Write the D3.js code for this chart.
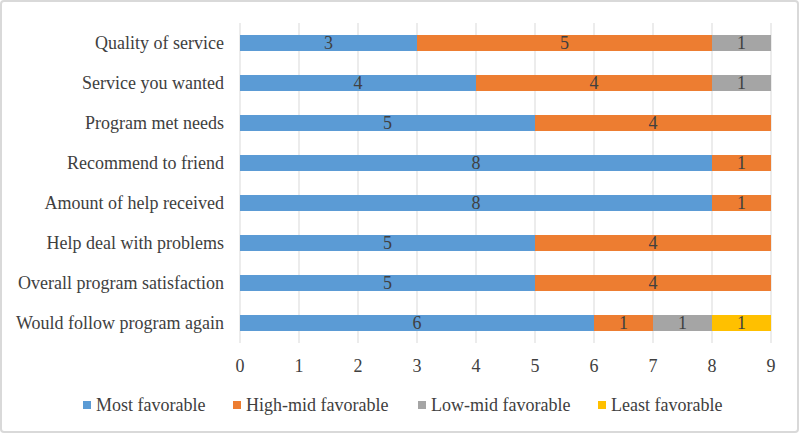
<!DOCTYPE html>
<html lang="en">
<head>
<meta charset="UTF-8">
<title>Program feedback</title>
<style>
    body { margin: 0; background: #fff; }
    #chart { width: 799px; height: 433px; }
</style>
</head>
<body>
<div id="chart"></div>
<script src="https://d3js.org/d3.v7.min.js"></script>
<script>
    const categories = [
        "Quality of service",
        "Service you wanted",
        "Program met needs",
        "Recommend to friend",
        "Amount of help received",
        "Help deal with problems",
        "Overall program satisfaction",
        "Would follow program again"
    ];
    const seriesNames = ["Most favorable", "High-mid favorable", "Low-mid favorable", "Least favorable"];
    const mostFavorable    = [3, 4, 5, 8, 8, 5, 5, 6];
    const highMidFavorable = [5, 4, 4, 1, 1, 4, 4, 1];
    const lowMidFavorable  = [1, 1, 0, 0, 0, 0, 0, 1];
    const leastFavorable   = [0, 0, 0, 0, 0, 0, 0, 1];
    const xTicks = [0, 1, 2, 3, 4, 5, 6, 7, 8, 9];
    const colors = ["#5B9BD5", "#ED7D31", "#A5A5A5", "#FFC000"];

    const width = 799, height = 433;
    const margin = { left: 240, right: 28, top: 23, bottom: 90 };
    const font = "'Liberation Serif', 'Times New Roman', 'DejaVu Serif', serif";

    const rows = categories.map((c, i) => ({
        cat: c,
        s0: mostFavorable[i], s1: highMidFavorable[i], s2: lowMidFavorable[i], s3: leastFavorable[i]
    }));
    const stacked = d3.stack().keys(["s0", "s1", "s2", "s3"])(rows);

    const svg = d3.select("#chart").append("svg")
        .attr("width", width)
        .attr("height", height)
        .attr("font-family", font)
        .style("font-family", font);

    // outer frame
    svg.append("rect")
        .attr("x", 1).attr("y", 1)
        .attr("width", width - 2).attr("height", height - 2)
        .attr("rx", 3)
        .attr("fill", "none")
        .attr("stroke", "#d9d9d9")
        .attr("stroke-width", 2);

    const x = d3.scaleLinear()
        .domain([0, 9])
        .range([margin.left, width - margin.right]);

    const y = d3.scaleBand()
        .domain(categories)
        .range([margin.top, height - margin.bottom])
        .paddingInner(0.6)
        .paddingOuter(0.3);

    const bottom = height - margin.bottom;

    // gridlines
    svg.append("g")
        .selectAll("line")
        .data(xTicks)
        .join("line")
        .attr("x1", d => x(d)).attr("x2", d => x(d))
        .attr("y1", margin.top).attr("y2", bottom)
        .attr("stroke", "#d9d9d9")
        .attr("stroke-width", 1);

    // bars
    const layers = svg.append("g")
        .selectAll("g")
        .data(stacked)
        .join("g");

    layers.selectAll("rect")
        .data((d, i) => d.map(p => Object.assign(p, { idx: i })))
        .join("rect")
        .attr("x", d => x(d[0]))
        .attr("y", d => y(d.data.cat))
        .attr("width", d => x(d[1]) - x(d[0]))
        .attr("height", y.bandwidth())
        .attr("fill", d => colors[d.idx]);

    // value labels
    layers.selectAll("text")
        .data(d => d.filter(p => p[1] - p[0] > 0))
        .join("text")
        .attr("x", d => (x(d[0]) + x(d[1])) / 2)
        .attr("y", d => y(d.data.cat) + y.bandwidth() / 2)
        .attr("dy", "0.35em")
        .attr("text-anchor", "middle")
        .attr("fill", "#404040")
        .style("font-size", "18px")
        .text(d => d[1] - d[0]);

    // category labels
    svg.append("g")
        .selectAll("text")
        .data(categories)
        .join("text")
        .attr("x", margin.left - 16)
        .attr("y", d => y(d) + y.bandwidth() / 2)
        .attr("dy", "0.35em")
        .attr("text-anchor", "end")
        .attr("fill", "#404040")
        .style("font-size", "18px")
        .text(d => d);

    // x tick labels
    svg.append("g")
        .selectAll("text")
        .data(xTicks)
        .join("text")
        .attr("x", d => x(d))
        .attr("y", bottom + 23)
        .attr("dy", "0.35em")
        .attr("text-anchor", "middle")
        .attr("fill", "#404040")
        .style("font-size", "18px")
        .text(d => d);

    // legend
    const legendX = [83, 233, 418, 598];
    const legend = svg.append("g")
        .selectAll("g")
        .data(seriesNames)
        .join("g")
        .attr("transform", (d, i) => `translate(${legendX[i]},405)`);

    legend.append("rect")
        .attr("x", 0).attr("y", -4)
        .attr("width", 8).attr("height", 8)
        .attr("fill", (d, i) => colors[i]);

    legend.append("text")
        .attr("x", 13)
        .attr("y", 0)
        .attr("dy", "0.35em")
        .attr("fill", "#404040")
        .style("font-size", "18px")
        .text(d => d);
</script>
</body>
</html>
